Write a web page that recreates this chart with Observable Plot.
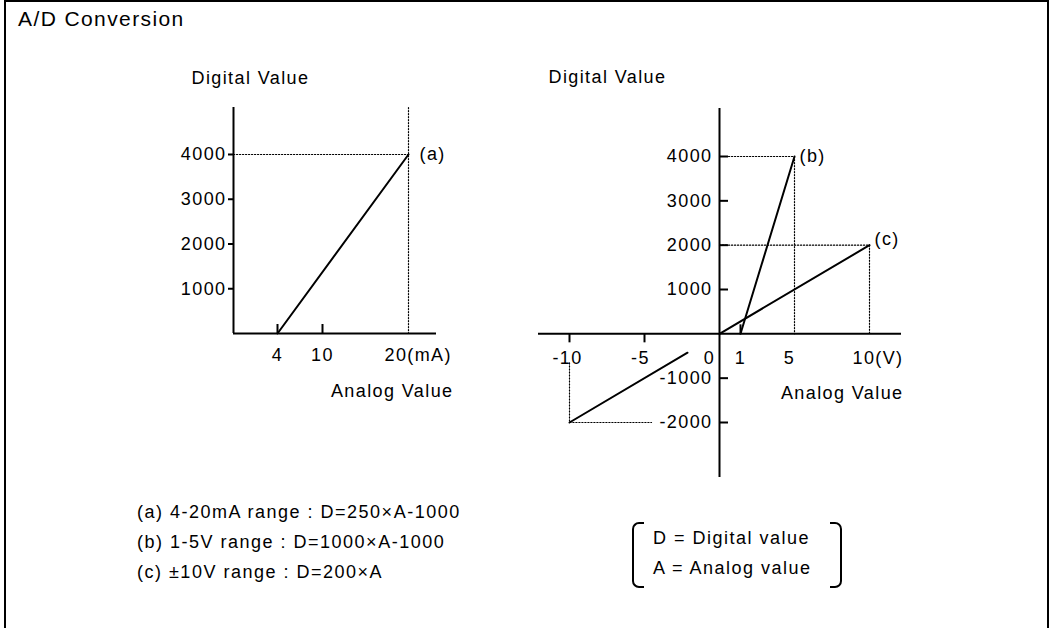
<!DOCTYPE html>
<html>
<head>
<meta charset="utf-8">
<script src="https://cdn.jsdelivr.net/npm/d3@7"></script>
<script src="https://cdn.jsdelivr.net/npm/@observablehq/plot@0.6"></script>
<style>
  html, body { margin: 0; padding: 0; background: #fff; }
  #page { position: relative; width: 1049px; height: 628px; overflow: hidden; background: #fff;
          font-family: "Liberation Sans", Arial, sans-serif; color: #000; }
  #frame { position: absolute; left: 4px; top: 0px; width: 1045px; height: 700px; box-sizing: border-box;
           border: 2px solid #000; }
  .layer { position: absolute; left: 0; top: 0; }
  .txt { position: absolute; white-space: nowrap; font-size: 18px; line-height: 20px; letter-spacing: 1.5px; }
  #title { position: absolute; left: 18px; top: 7px; font-size: 21px; line-height: 24px; letter-spacing: 1.4px; white-space: nowrap; }
  .brL, .brR { position: absolute; top: 522px; height: 66px; width: 12px; box-sizing: border-box; border: 2px solid #000; }
  .brL { left: 632px; border-right: none; border-radius: 7px 0 0 7px; }
  .brR { left: 830px; border-left: none; border-radius: 0 7px 7px 0; }
</style>
</head>
<body>
<div id="page">
  <div id="frame"></div>
  <div id="title"></div>
  <div id="left" class="layer"></div>
  <div id="right" class="layer"></div>
  <div id="notes"></div>
</div>
<script>
// ---------- data ----------
const title = "A/D Conversion";
const yTitle = "Digital Value";
const xTitle = "Analog Value";

// chart (a): 4-20 mA
const aAnalog = [4, 20];
const aDigital = [0, 4000];
const leftYTicks = [1000, 2000, 3000, 4000];
const leftXTickValues = [4, 10, 20];
const leftXTickLabels = ["4", "10", "20(mA)"];
const leftXMarks = [4, 10];           // small tick marks on x axis
const leftAxisX = [0, 23.3];          // axis extent (analog)
const leftAxisY = [0, 5050];          // axis extent (digital)

// chart (b): 1-5 V and (c): ±10 V
const bAnalog = [1, 5];
const bDigital = [0, 4000];
const cAnalog = [0, 10];
const cDigital = [0, 2000];
const cNegAnalog = [-10, -2.13];
const cNegDigital = [-2000, -426];
const rightYTicks = [4000, 3000, 2000, 1000, -1000, -2000];
const rightXTickValues = [-10, -5, 0, 1, 5, 10];
const rightXTickLabels = ["-10", "-5", "0", "1", "5", "10(V)"];
const rightXMarksDown = [-10, -5];
const rightXMarksUp = [1];
const rightAxisX = [-12.07, 12.13];
const rightAxisY = [-3240, 5083];

// dotted guide lines (series of analog/digital points)
const guideA1x = [0, 20], guideA1y = [4000, 4000];
const guideA2x = [20, 20], guideA2y = [5050, 0];
const guideBx = [0, 5, 5], guideBy = [4000, 4000, 0];
const guideCx = [0, 10, 10], guideCy = [2000, 2000, 0];
const guideNx = [-10, -10, -4.53], guideNy = [-654, -2000, -2000];

const seriesLabels = ["(a)", "(b)", "(c)"];

const formulas = [
  "(a) 4-20mA range : D=250\u00d7A-1000",
  "(b) 1-5V range : D=1000\u00d7A-1000",
  "(c) \u00b110V range : D=200\u00d7A"
];
const legendLines = ["D = Digital value", "A = Analog value"];

// ---------- helpers ----------
const pts = (xs, ys) => xs.map((x, i) => ({x, y: ys[i]}));
const font = {background: "transparent", fontFamily: "'Liberation Sans', Arial, sans-serif",
              fontSize: "18px", letterSpacing: "1.4px", overflow: "visible"};
const SW = 2;
const dotted = {stroke: "#000", strokeWidth: 1.2, strokeDasharray: "1.2,1.8", strokeLinejoin: "miter"};

// ---------- left chart ----------
const left = Plot.plot({
  width: 1049, height: 628, margin: 0,
  x: {type: "linear", domain: [0, 4, 10, 20, 23.3], range: [233, 277, 322, 408, 436], axis: null},
  y: {type: "linear", domain: [0, 5050], range: [333, 107], axis: null},
  style: font,
  marks: [
    Plot.line(pts(guideA1x, guideA1y), {x: "x", y: "y", ...dotted}),
    Plot.line(pts(guideA2x, guideA2y), {x: "x", y: "y", ...dotted}),
    Plot.ruleX([0], {y1: leftAxisY[0], y2: leftAxisY[1], strokeWidth: SW}),
    Plot.ruleY([0], {x1: leftAxisX[0], x2: leftAxisX[1], strokeWidth: SW}),
    Plot.ruleY(leftYTicks, {y: d => d, x1: 0, x2: 0, insetLeft: -5, insetRight: 0, strokeWidth: SW}),
    Plot.ruleX(leftXMarks, {x: d => d, y1: 0, y2: 0, insetTop: -9, insetBottom: 0, strokeWidth: SW}),
    Plot.line(pts(aAnalog, aDigital), {x: "x", y: "y", strokeWidth: SW}),
    Plot.text(leftYTicks, {x: 0, y: d => d, text: d => String(d), textAnchor: "end", dx: -7, lineAnchor: "middle"}),
    Plot.text([0, 1], {x: i => leftXTickValues[i], y: 0, text: i => leftXTickLabels[i], dy: 22, lineAnchor: "middle"}),
    Plot.text([2], {x: i => leftXTickValues[i], y: 0, text: i => leftXTickLabels[i], textAnchor: "start", dx: -24, dy: 22, lineAnchor: "middle"}),
    Plot.text([seriesLabels[0]], {x: aAnalog[1], y: aDigital[1], text: d => d, textAnchor: "start", dx: 11, lineAnchor: "middle"}),
    Plot.text([yTitle], {x: 0, y: leftAxisY[1], text: d => d, textAnchor: "start", dx: -42, dy: -29, lineAnchor: "middle"}),
    Plot.text([xTitle], {x: leftAxisX[1], y: 0, text: d => d, textAnchor: "end", dx: 17, dy: 58, lineAnchor: "middle"})
  ]
});
document.getElementById("left").append(left);

// ---------- right chart ----------
const rxOffsets = [-2, -4, -10, 0, -5, -17];
const right = Plot.plot({
  width: 1049, height: 628, margin: 0,
  x: {type: "linear", domain: [-12.07, -10, 0, 1, 5, 10, 12.13], range: [538, 569, 719, 740, 794, 869, 901], axis: null},
  y: {type: "linear", domain: [-2000, 4000], range: [422, 156], axis: null},
  style: font,
  marks: [
    Plot.line(pts(guideBx, guideBy), {x: "x", y: "y", ...dotted}),
    Plot.line(pts(guideCx, guideCy), {x: "x", y: "y", ...dotted}),
    Plot.line(pts(guideNx, guideNy), {x: "x", y: "y", ...dotted}),
    Plot.ruleX([0], {y1: rightAxisY[0], y2: rightAxisY[1], strokeWidth: SW}),
    Plot.ruleY([0], {x1: rightAxisX[0], x2: rightAxisX[1], strokeWidth: SW}),
    Plot.ruleY(rightYTicks, {y: d => d, x1: 0, x2: 0, insetLeft: 0, insetRight: -9, strokeWidth: SW}),
    Plot.ruleX(rightXMarksDown, {x: d => d, y1: 0, y2: 0, insetTop: 0, insetBottom: -9, strokeWidth: SW}),
    Plot.ruleX(rightXMarksUp, {x: d => d, y1: 0, y2: 0, insetTop: -9, insetBottom: 0, strokeWidth: SW}),
    Plot.line(pts(bAnalog, bDigital), {x: "x", y: "y", strokeWidth: SW}),
    Plot.line(pts(cAnalog, cDigital), {x: "x", y: "y", strokeWidth: SW}),
    Plot.line(pts(cNegAnalog, cNegDigital), {x: "x", y: "y", strokeWidth: SW}),
    Plot.text(rightYTicks, {x: 0, y: d => d, text: d => String(d), textAnchor: "end", dx: -7, lineAnchor: "middle"}),
    ...rightXTickValues.map((v, i) => Plot.text([rightXTickLabels[i]], {
      x: v, y: 0, text: d => d, dx: rxOffsets[i], dy: 24, lineAnchor: "middle",
      textAnchor: i === rightXTickValues.length - 1 ? "start" : "middle"})),
    Plot.text([seriesLabels[1]], {x: bAnalog[1], y: bDigital[1], text: d => d, textAnchor: "start", dx: 5, lineAnchor: "middle"}),
    Plot.text([seriesLabels[2]], {x: cAnalog[1], y: cDigital[1], text: d => d, textAnchor: "start", dx: 5, dy: -6, lineAnchor: "middle"}),
    Plot.text([yTitle], {x: 0, y: rightAxisY[1], text: d => d, textAnchor: "start", dx: -171, dy: -31, lineAnchor: "middle"}),
    Plot.text([xTitle], {x: rightAxisX[1], y: 0, text: d => d, textAnchor: "end", dx: 2, dy: 59, lineAnchor: "middle"})
  ]
});
document.getElementById("right").append(right);

// ---------- title & notes ----------
document.getElementById("title").textContent = title;
const notes = document.getElementById("notes");
const noteTops = [502, 532, 562];
formulas.forEach((t, i) => {
  const d = document.createElement("div");
  d.className = "txt"; d.textContent = t;
  d.style.left = "137px"; d.style.top = noteTops[i] + "px";
  notes.append(d);
});
const legTops = [528, 558];
legendLines.forEach((t, i) => {
  const d = document.createElement("div");
  d.className = "txt"; d.textContent = t;
  d.style.left = "653px"; d.style.top = legTops[i] + "px";
  notes.append(d);
});
const bl = document.createElement("div"); bl.className = "brL"; notes.append(bl);
const br = document.createElement("div"); br.className = "brR"; notes.append(br);
</script>
</body>
</html>
